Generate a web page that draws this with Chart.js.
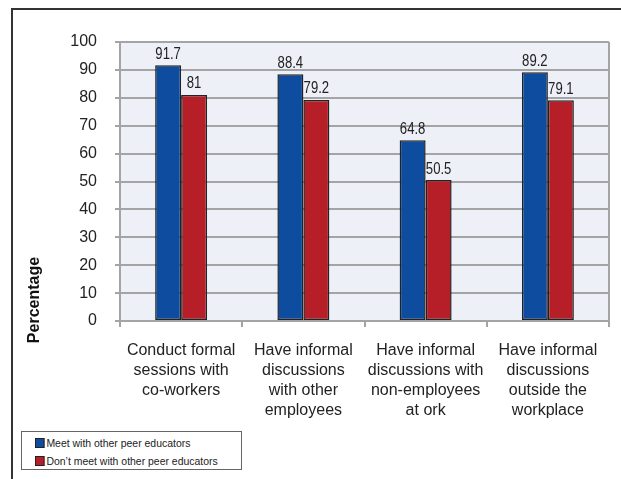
<!DOCTYPE html>
<html>
<head>
<meta charset="utf-8">
<script src="https://cdn.jsdelivr.net/npm/chart.js@4"></script>
<style>
  body { margin: 0; background: #fff; }
  .wrap { position: relative; width: 621px; height: 479px; overflow: hidden; }
  .frame { position: absolute; left: 11px; top: 8px; width: 640px; height: 500px;
           border-left: 2px solid #333; border-top: 2px solid #333; }
  canvas { position: absolute; left: 0; top: 0; }
  .legend { position: absolute; left: 21px; top: 431px; width: 219px; height: 37px;
            border: 1px solid #666; background: #fff;
            font: 11px "Liberation Sans", Arial, sans-serif; color: #222; }
  .legend div { position: absolute; left: 13px; height: 14px; line-height: 14px; white-space: nowrap;
                transform: scaleX(0.95); transform-origin: left center; }
  .legend span { display: inline-block; width: 8px; height: 8px; border: 1px solid #222;
                 margin-right: 2px; vertical-align: -1px; }
</style>
</head>
<body>
<div class="wrap">
  <div class="frame"></div>
  <canvas id="myChart" width="621" height="479"></canvas>
  <div class="legend">
    <div style="top:4px"><span style="background:#0E4C9F"></span>Meet with other peer educators</div>
    <div style="top:22px"><span style="background:#B61F27"></span>Don’t meet with other peer educators</div>
  </div>
</div>
<script>
const categories = [
    ["Conduct formal", "sessions with", "co-workers"],
    ["Have informal", "discussions", "with other", "employees"],
    ["Have informal", "discussions with", "non-employees", "at ork"],
    ["Have informal", "discussions", "outside the", "workplace"],
];
const seriesNames = ["Meet with other peer educators", "Don’t meet with other peer educators"];
const meetValues = [91.7, 88.4, 64.8, 89.2];
const dontMeetValues = [81, 79.2, 50.5, 79.1];
const yTicks = [0, 10, 20, 30, 40, 50, 60, 70, 80, 90, 100];

const sans = '"Liberation Sans", Arial, sans-serif';
const gridGrey = "#A4A4A4";

const plotBackground = {
    id: "plotBackground",
    beforeDraw(chart) {
        const { ctx, chartArea: a } = chart;
        ctx.save();
        ctx.fillStyle = "#EEF0F8";
        ctx.fillRect(a.left, a.top, a.right - a.left, a.bottom - a.top);
        ctx.restore();
    },
    afterDraw(chart) {
        const { ctx, chartArea: a } = chart;
        ctx.save();
        ctx.strokeStyle = gridGrey;
        ctx.lineWidth = 2;
        ctx.beginPath();
        ctx.moveTo(a.right, a.top);
        ctx.lineTo(a.right, a.bottom);
        ctx.stroke();
        // y title, sits low beside the axis
        ctx.translate(35, 300);
        ctx.rotate(-Math.PI / 2);
        ctx.fillStyle = "#111";
        ctx.font = "bold 16px " + sans;
        ctx.textAlign = "center";
        ctx.textBaseline = "middle";
        ctx.fillText("Percentage", 0, 0);
        ctx.restore();
    },
};

// value above each bar, squeezed a bit to look like a narrow face
const valueLabels = {
    id: "valueLabels",
    afterDatasetsDraw(chart) {
        const ctx = chart.ctx;
        chart.data.datasets.forEach((ds, i) => {
            chart.getDatasetMeta(i).data.forEach((bar, j) => {
                ctx.save();
                ctx.translate(bar.x, bar.y - 3);
                ctx.scale(0.82, 1);
                ctx.font = "16px " + sans;
                ctx.fillStyle = "#222";
                ctx.textAlign = "center";
                ctx.textBaseline = "bottom";
                ctx.fillText(String(ds.data[j]), 0, 0);
                ctx.restore();
            });
        });
    },
};

const ctx = document.getElementById("myChart").getContext("2d");
const myChart = new Chart(ctx, {
    type: "bar",
    data: {
        labels: categories,
        datasets: [
            {
                label: seriesNames[0],
                data: meetValues,
                backgroundColor: "#0E4C9F",
                borderColor: "#222",
                borderWidth: 1.5,
                borderSkipped: false,
            },
            {
                label: seriesNames[1],
                data: dontMeetValues,
                backgroundColor: "#B61F27",
                borderColor: "#222",
                borderWidth: 1.5,
                borderSkipped: false,
            },
        ],
    },
    options: {
        responsive: false,
        animation: false,
        devicePixelRatio: 1,
        categoryPercentage: 0.425,
        barPercentage: 1,
        layout: { padding: { left: 0, right: 12, top: 42, bottom: 0 } },
        plugins: {
            legend: { display: false },
            tooltip: { enabled: false },
        },
        scales: {
            x: {
                offset: true,
                grid: {
                    offset: true,
                    drawOnChartArea: false,
                    color: gridGrey,
                    lineWidth: 2,
                    tickLength: 6,
                },
                border: { display: true, color: gridGrey, width: 2 },
                ticks: {
                    font: { family: sans, size: 16, lineHeight: 1.25 },
                    color: "#222",
                    padding: 14,
                    maxRotation: 0,
                    autoSkip: false,
                },
                afterFit(scale) { scale.height = 158; },
            },
            y: {
                min: 0,
                max: 100,
                afterBuildTicks(scale) { scale.ticks = yTicks.map(v => ({ value: v })); },
                grid: { color: gridGrey, lineWidth: 2, tickLength: 5 },
                border: { display: true, color: gridGrey, width: 2 },
                ticks: {
                    font: { family: sans, size: 16 },
                    color: "#222",
                    padding: 18,
                },
                afterFit(scale) { scale.width = 120; },
            },
        },
    },
    plugins: [plotBackground, valueLabels],
});
</script>
</body>
</html>
